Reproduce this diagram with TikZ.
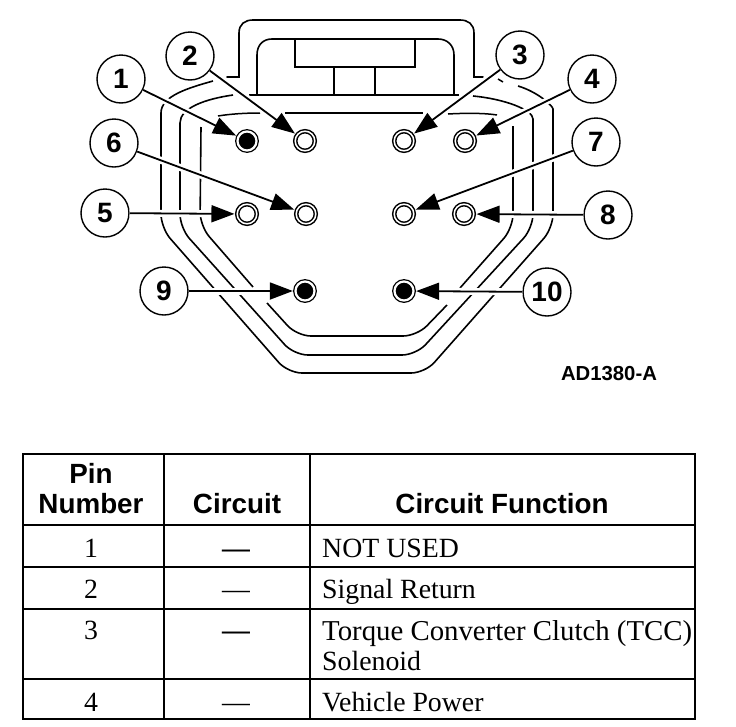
\documentclass[tikz,border=0pt]{standalone}
\usepackage{fontspec}
\setmainfont{Liberation Serif}
\setsansfont{Liberation Sans}
\usetikzlibrary{arrows.meta}

\begin{document}
\begin{tikzpicture}[x=1pt,y=-1pt,
  main node/.style={circle,draw,line width=1.4pt,fill=white,minimum size=48pt,inner sep=0pt,
    font=\sffamily\bfseries\fontsize{28}{28}\selectfont},
  open pin/.style={circle,draw,line width=1.5pt,double=white,double distance=1.5pt,minimum size=19.6pt,inner sep=0pt,fill=white},
  full pin/.style={circle,draw,line width=1.3pt,double=white,double distance=2.2pt,minimum size=19pt,inner sep=0pt,fill=black},
  pin arrow/.style={line width=1.8pt,-{Triangle[length=23pt,width=17pt]},shorten >=2pt,
    preaction={draw=white,line width=7pt,-{Triangle[length=23pt,width=17pt]}}},
  housing/.style={line width=1.6pt,rounded corners=14pt},
  grid line/.style={line width=1.4pt},
  head text/.style={anchor=base,inner sep=0pt,font=\sffamily\bfseries\fontsize{27.8}{27.8}\selectfont},
  cell text/.style={anchor=base,inner sep=0pt,font=\fontsize{27.8}{27.8}\selectfont},
  func text/.style={cell text,anchor=base west}]
  \useasboundingbox (0,0) rectangle (736,726);

  % connector body
  \draw[line width=1.6pt,line cap=round] (227,77) -- (239,77) -- (239,33) .. controls (239,24) and (245,20) .. (253,20)
    -- (460,20) .. controls (468,20) and (474,24) .. (474,33) -- (474,77) -- (483,77);
  \draw[line width=1.6pt] (257,95) -- (257,55) .. controls (257,45) and (263,39) .. (272,39)
    -- (438,39) .. controls (447,39) and (454,45) .. (454,55) -- (454,95);
  \draw[line width=2.4pt] (249,95) -- (459,95);
  \draw[line width=1.8pt] (295,39) rectangle (415,67);
  \draw[line width=1.8pt] (334,68) -- (334,95) (375,68) -- (375,95);

  % outlines
  \draw[housing] (213,81) .. controls (188,88) and (161,96) .. (161,127) -- (161,228) -- (288,373) -- (425,373) -- (553,228)
    -- (553,123) .. controls (553,106) and (538,92) .. (518,86);
  \draw[housing] (233,95) .. controls (205,99) and (180,108) .. (180,137) -- (180,228) -- (294,355) -- (416,355) -- (533,228)
    -- (533,133) .. controls (533,110) and (505,99) .. (473,96);
  \draw[housing] (201,127) -- (200,226) -- (253,287);
  \draw[housing] (267,303) -- (297,336) -- (417,336) -- (447,305);
  \draw[housing] (460,288) -- (513,228) -- (513,126);
  \draw[line width=1.5pt] (218,116) .. controls (230,114) and (245,113) .. (260,113);
  \draw[line width=1.5pt] (285,113) -- (423,113);
  \draw[line width=1.5pt] (448,114) .. controls (465,113) and (485,113) .. (497,115);
  \draw[line width=1.5pt] (498,79) -- (503,82);

  \node[full pin] (p1) at (247,141) {};
  \node[open pin] (p2) at (305,141) {};
  \node[open pin] (p3) at (404,141) {};
  \node[open pin] (p4) at (465,141) {};
  \node[open pin] (p5) at (247,214) {};
  \node[open pin] (p6) at (306,214) {};
  \node[open pin] (p7) at (404,214) {};
  \node[open pin] (p8) at (464,214) {};
  \node[full pin] (p9) at (305,291) {};
  \node[full pin] (p10) at (404,291) {};

  \node[main node] (n1) at (121,79) {1};
  \node[main node] (n2) at (190,56) {2};
  \node[main node] (n3) at (520,55) {3};
  \node[main node] (n4) at (592,79) {4};
  \node[main node] (n5) at (105,213) {5};
  \node[main node] (n6) at (114,143) {6};
  \node[main node] (n7) at (596,142) {7};
  \node[main node] (n8) at (608,215) {8};
  \node[main node] (n9) at (164,291) {9};
  \node[main node] (n10) at (547,292) {10};

  \path[]
  (n1) edge[pin arrow] (p1)
  (n2) edge[pin arrow] (p2)
  (n3) edge[pin arrow] (p3)
  (n4) edge[pin arrow] (p4)
  (n5) edge[pin arrow] (p5)
  (n6) edge[pin arrow] (p6)
  (n7) edge[pin arrow] (p7)
  (n8) edge[pin arrow] (p8)
  (n9) edge[pin arrow] (p9)
  (n10) edge[pin arrow] (p10);

  \node[anchor=base,inner sep=0pt,font=\sffamily\bfseries\fontsize{20.3}{20.3}\selectfont] (code) at (609,380) {AD1380-A};

  % table
  \draw[line width=2.2pt] (23,454) rectangle (695,719);
  \draw[line width=2.4pt] (23,525) -- (695,525);
  \draw[line width=2.2pt] (23,567) -- (695,567);
  \draw[line width=2.2pt] (23,609) -- (695,609);
  \draw[line width=2.2pt] (23,679) -- (695,679);
  \draw[grid line] (164,454) -- (164,719);
  \draw[line width=2pt] (310,454) -- (310,719);

  \node[head text] (pin) at (91,483) {Pin};
  \node[head text] (number) at (91,513) {Number};
  \node[head text] (circuit) at (237,513) {Circuit};
  \node[head text] (function) at (502,513) {Circuit Function};

  \node[cell text] (r1) at (91,557) {1};
  \node[cell text] (c1) at (236,557) {\textbf{—}};
  \node[func text] (f1) at (322,557) {NOT USED};
  \node[cell text] (r2) at (91,598) {2};
  \node[cell text] (c2) at (236,598) {—};
  \node[func text] (f2) at (322,598) {Signal Return};
  \node[cell text] (r3) at (91,639) {3};
  \node[cell text] (c3) at (236,639) {\textbf{—}};
  \node[func text,font=\fontsize{28.8}{28.8}\selectfont] (f3) at (322,640) {Torque Converter Clutch (TCC)};
  \node[func text] (f3b) at (322,670) {Solenoid};
  \node[cell text] (r4) at (91,711) {4};
  \node[cell text] (c4) at (236,711) {—};
  \node[func text] (f4) at (322,711) {Vehicle Power};
\end{tikzpicture}
\end{document}
